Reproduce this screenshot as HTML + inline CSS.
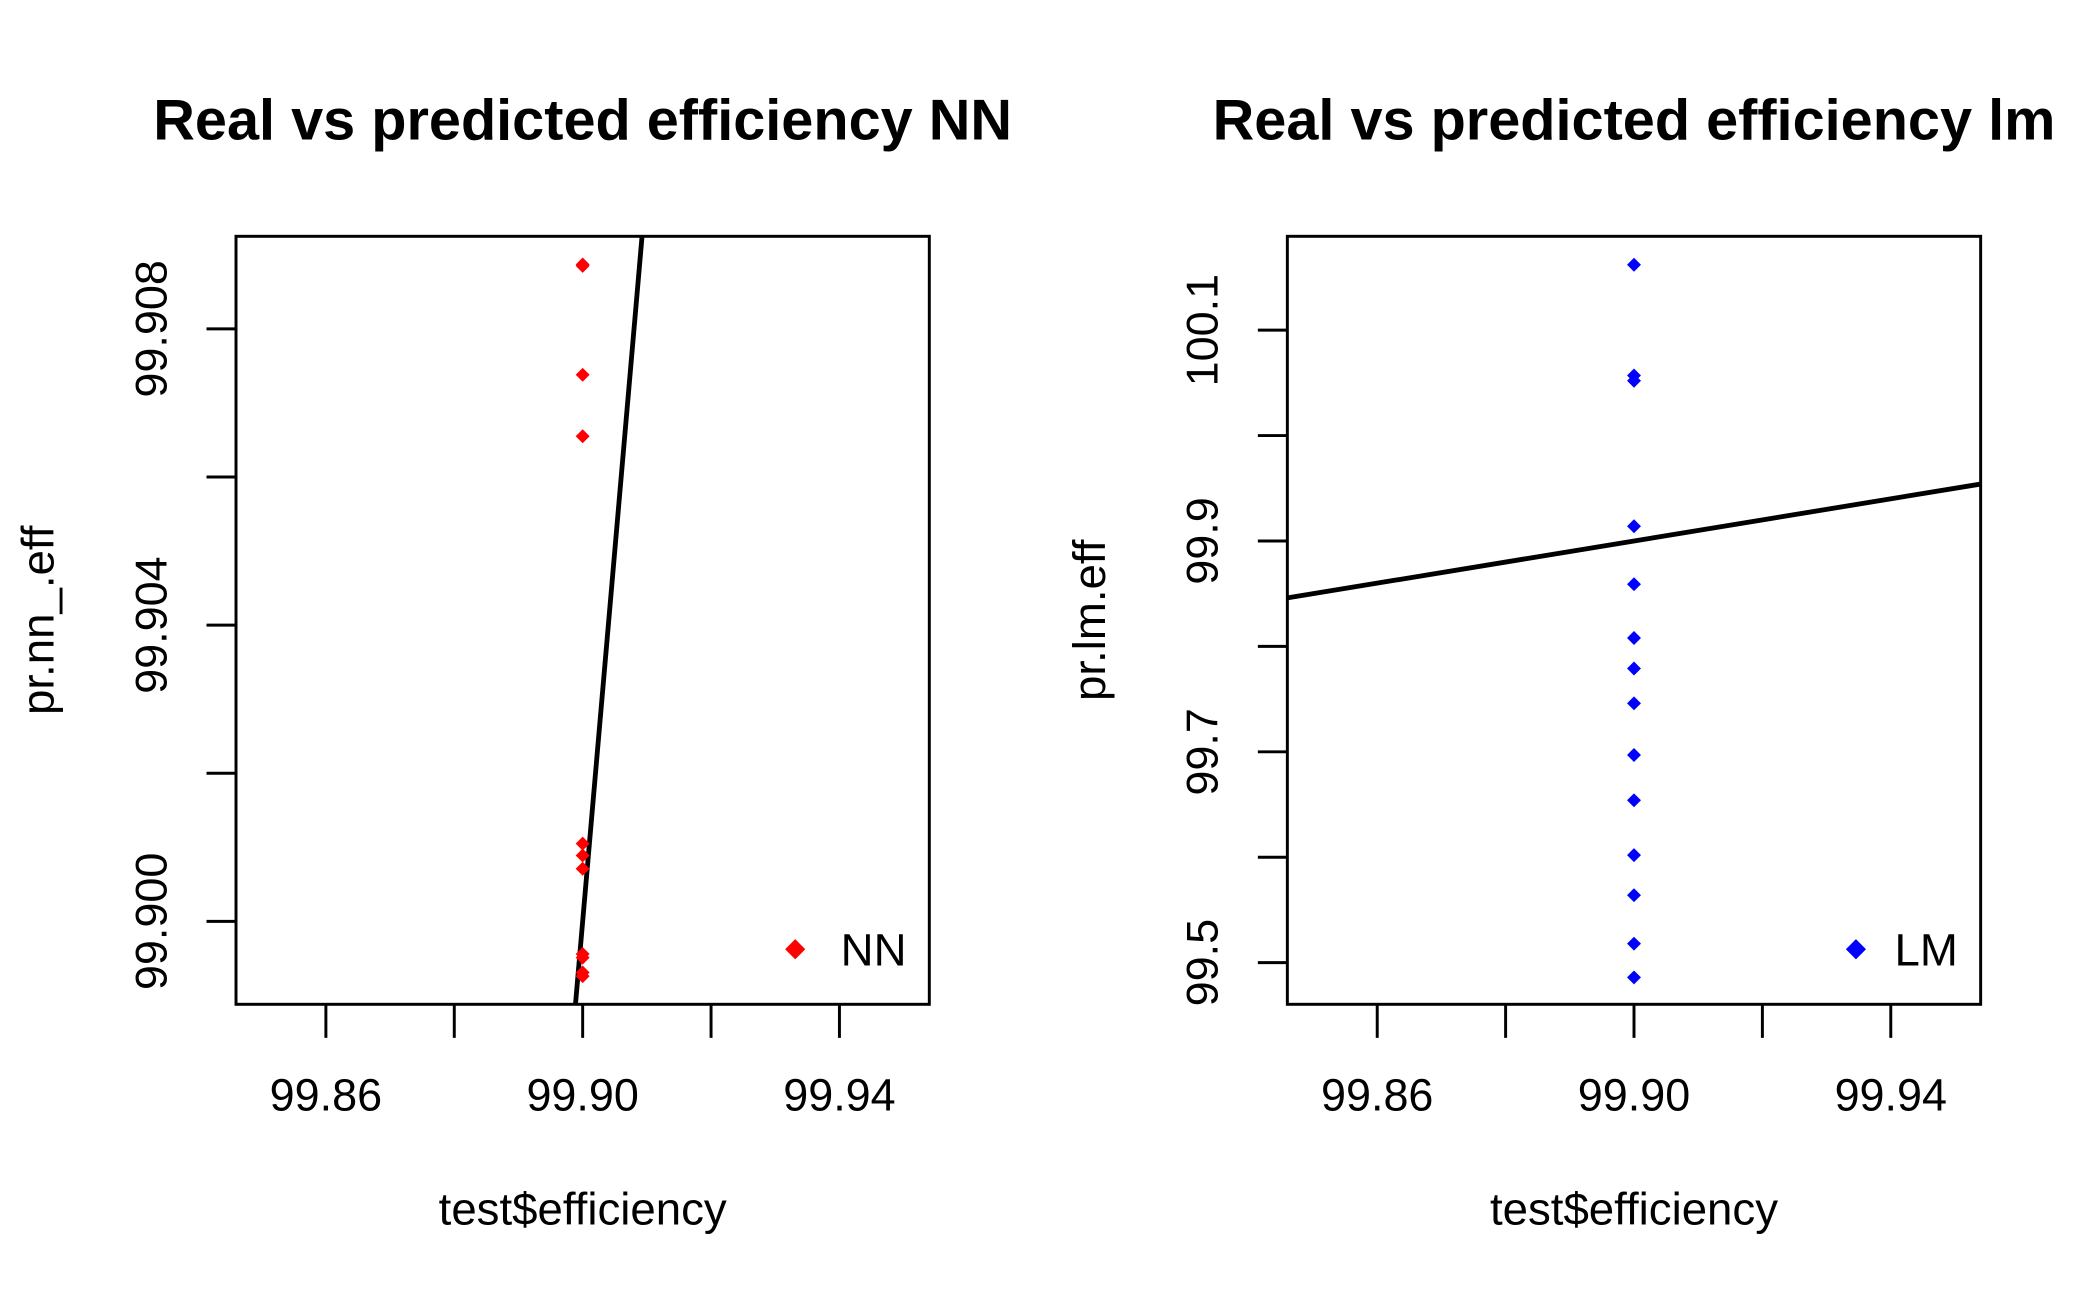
<!DOCTYPE html>
<html><head><meta charset="utf-8"><style>html,body{margin:0;padding:0;background:#fff;overflow:hidden;width:2100px;height:1297px}svg{display:block}text{font-family:"Liberation Sans",sans-serif}</style></head>
<body>
<svg id="s" width="2100" height="1297" viewBox="0 0 1566 966" preserveAspectRatio="none" xmlns="http://www.w3.org/2000/svg"></svg>
<script>
const nnX = [99.90,99.90,99.90,99.90,99.90,99.90,99.90,99.90,99.90,99.90,99.90];
const nnY = [99.90885,99.90887,99.90738,99.90655,99.90105,99.90089,99.90071,99.89956,99.89951,99.89931,99.89926];
const lmX = [99.90,99.90,99.90,99.90,99.90,99.90,99.90,99.90,99.90,99.90,99.90,99.90,99.90,99.90];
const lmY = [100.162,100.057,100.052,99.914,99.859,99.808,99.779,99.746,99.697,99.654,99.602,99.564,99.518,99.486];
const xTicks = [99.86,99.88,99.90,99.92,99.94];
const xTickLabels = ["99.86","","99.90","","99.94"];
const nnYTicks = [99.900,99.902,99.904,99.906,99.908];
const nnYTickLabels = ["99.900","","99.904","","99.908"];
const lmYTicks = [99.5,99.6,99.7,99.8,99.9,100.0,100.1];
const lmYTickLabels = ["99.5","","99.7","","99.9","","100.1"];
const NS="http://www.w3.org/2000/svg", svg=document.getElementById('s');
function mk(t,a,p){const e=document.createElementNS(NS,t);for(const k in a)e.setAttribute(k,a[k]);(p||svg).appendChild(e);return e;}
function panel(o){
  const g=mk('g',{});
  
  
  const L=o.left,R=o.left+517,T=176,B=748;
  const sx=v=>L+(v-99.846)/(99.954-99.846)*(R-L);
  const sy=v=>B-(v-o.ymin)/(o.ymax-o.ymin)*(B-T);
  const t=mk('text',{x:(L+R)/2+(o.tdx||0),y:104,'text-anchor':'middle','font-size':43,'font-weight':'bold'},g);t.textContent=o.title;
  
  const cid='c'+o.left;const cp=mk('clipPath',{id:cid},g);mk('rect',{x:L,y:T,width:R-L,height:B-T},cp);
  const ln=mk('line',{x1:sx(99.84),y1:sy(99.84),x2:sx(99.96),y2:sy(99.96),stroke:'#000','stroke-width':3.6,'clip-path':`url(#${cid})`},g);
  
  const d=(x,y,r,c,p)=>mk('polygon',{points:`${x},${y-r} ${x+r},${y} ${x},${y+r} ${x-r},${y}`,fill:c},p);
  o.xs.forEach((xv,i)=>{const p=d(sx(xv),sy(o.ys[i]),5.2,o.color,g);
    });
  const bx=mk('rect',{x:L,y:T,width:R-L,height:B-T,fill:'none',stroke:'#000','stroke-width':2.2},g);
  
  xTicks.forEach((v,i)=>{mk('line',{x1:sx(v),y1:B,x2:sx(v),y2:B+25,stroke:'#000','stroke-width':2.2},g);
    if(xTickLabels[i]){const tx=mk('text',{x:sx(v),y:827,'text-anchor':'middle','font-size':33.5},g);tx.textContent=xTickLabels[i];
    }});
  o.yt.forEach((v,i)=>{mk('line',{x1:L,y1:sy(v),x2:L-22,y2:sy(v),stroke:'#000','stroke-width':2.2},g);
    if(o.ytl[i]){const tx=mk('text',{x:0,y:0,'text-anchor':'middle','font-size':33.5,transform:`translate(${L-52},${sy(v)}) rotate(-90)`},g);tx.textContent=o.ytl[i];
    }});
  const xl=mk('text',{x:(L+R)/2,y:912,'text-anchor':'middle','font-size':34},g);xl.textContent='test$efficiency';
  
  const yl=mk('text',{x:0,y:0,'text-anchor':'middle','font-size':34,transform:`translate(${L-136},${(T+B)/2}) rotate(-90)`},g);yl.textContent=o.ylab;
  
  const lg=mk('g',{},g);
  d(L+o.lgx,707,7.5,o.color,lg);
  const lt=mk('text',{x:R-17,y:719,'text-anchor':'end','font-size':34},lg);lt.textContent=o.lab;
}
panel({name:'nn-panel',left:176,title:'Real vs predicted efficiency NN',ymin:99.89888,ymax:99.90925,xs:nnX,ys:nnY,color:'#ff0000',yt:nnYTicks,ytl:nnYTickLabels,ylab:'pr.nn_.eff',lab:'NN',lgx:417});
panel({name:'lm-panel',left:960,title:'Real vs predicted efficiency lm',tdx:0,ymin:99.4605,ymax:100.189,xs:lmX,ys:lmY,color:'#0000ff',yt:lmYTicks,ytl:lmYTickLabels,ylab:'pr.lm.eff',lab:'LM',lgx:424});
</script>
</body></html>
